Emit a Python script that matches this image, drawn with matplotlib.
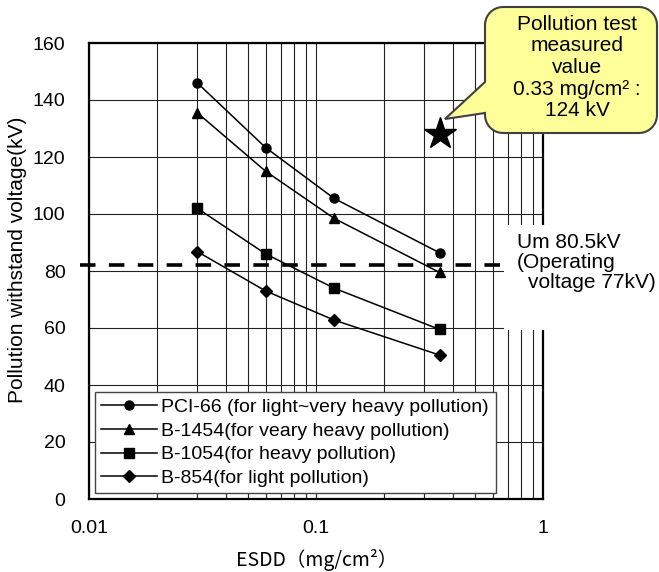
import numpy as np
import matplotlib
matplotlib.use("Agg")
import matplotlib.pyplot as plt
from matplotlib.patches import Rectangle, Polygon

plt.rcParams["font.family"] = ["Liberation Sans", "DejaVu Sans"]

# data
esdd = [0.03, 0.06, 0.12, 0.35]
pci66 = [146, 123.3, 105.5, 86.4]
b1454 = [135.5, 115, 98.5, 79.5]
b1054 = [102, 86, 74, 59.5]
b854 = [86.8, 73, 62.8, 50.5]
series = [
    ("PCI-66 (for light~very heavy pollution)", pci66, "o", 6.5),
    ("B-1454(for veary heavy pollution)", b1454, "^", 7.5),
    ("B-1054(for heavy pollution)", b1054, "s", 6.5),
    ("B-854(for light pollution)", b854, "D", 6),
]
test_esdd = 0.35
test_kv = 128
um_kv = 82
yticks = [0, 20, 40, 60, 80, 100, 120, 140, 160]
xticks = [0.01, 0.1, 1]
xticklabels = ["0.01", "0.1", "1"]

W, H = 659, 572
fig = plt.figure(figsize=(W / 100, H / 100), dpi=100)
ax = fig.add_axes([89 / W, 73 / H, 454 / W, 456 / H])

ax.set_xscale("log")
ax.set_xlim(0.01, 1)
ax.set_ylim(0, 160)
ax.set_xticks(xticks)
ax.set_xticklabels(xticklabels)
ax.set_yticks(yticks)
ax.tick_params(axis="both", which="both", length=0, labelsize=14)
ax.tick_params(axis="x", pad=15)
ax.tick_params(axis="y", pad=17)
ax.grid(True, which="both", color="#222222", lw=0.8)
ax.set_axisbelow(True)
for sp in ax.spines.values():
    sp.set_linewidth(1.6)

for label, vals, mk, ms in series:
    ax.plot(esdd, vals, color="k", lw=1.1, marker=mk, ms=ms, label=label, zorder=4)

ax.plot(test_esdd, test_kv, marker="*", color="k", ms=24, ls="none", zorder=5)

# operating voltage line
ax.plot([0.00913, 1], [um_kv, um_kv], color="k", lw=2.6, dashes=(4.3, 3.7),
        clip_on=False, zorder=3)

leg = ax.legend(loc="lower left", bbox_to_anchor=(0.013, 0.013, 0.883, 0.3),
                mode="expand", borderaxespad=0, fontsize=14, frameon=True,
                fancybox=False, edgecolor="#444444", framealpha=1,
                handlelength=2.9, handletextpad=0.2, labelspacing=0.32,
                borderpad=0.3)
leg.get_frame().set_linewidth(1.0)
leg.set_zorder(6)

fig.text(18 / W, 1 - 260 / H, "Pollution withstand voltage(kV)", rotation=90,
         ha="center", va="center", fontsize=15)
fig.text(317 / W, 1 - 560 / H, "ESDD（mg/cm²）", ha="center", va="center",
         fontsize=14, family=["Noto Sans CJK JP", "DejaVu Sans"])

# white box behind the operating voltage note
fig.patches.append(Rectangle((504 / W, 1 - 330 / H), 155 / W, 105 / H,
                             transform=fig.transFigure, facecolor="white",
                             edgecolor="none", zorder=2))
fig.text(517 / W, 1 - 243 / H, "Um 80.5kV", ha="left", va="center", fontsize=15, zorder=3)
fig.text(517 / W, 1 - 263 / H, "(Operating", ha="left", va="center", fontsize=15, zorder=3)
fig.text(528 / W, 1 - 283 / H, "voltage 77kV)", ha="left", va="center", fontsize=15, zorder=3)

# callout balloon
x0, x1, y0, y1, r = 485, 657, 7, 133, 18
pts = []
def arc(cx, cy, a0, a1):
    t = np.radians(np.linspace(a0, a1, 10))
    return [(cx + r * np.cos(t_), cy + r * np.sin(t_)) for t_ in t]
pts += arc(x0 + r, y0 + r, 180, 270)
pts += arc(x1 - r, y0 + r, 270, 360)
pts += arc(x1 - r, y1 - r, 0, 90)
pts += arc(x0 + r, y1 - r, 90, 180)
pts += [(x0, 113), (445, 119), (x0, 82)]
pts = [(px / W, 1 - py / H) for px, py in pts]
fig.patches.append(Polygon(pts, closed=True, transform=fig.transFigure,
                           facecolor="#FFFF99", edgecolor="#404040", lw=1.5, zorder=4))
callout = ["Pollution test", "measured", "value", "0.33 mg/cm² :", "124 kV"]
for i, line in enumerate(callout):
    fig.text(577 / W, 1 - (24 + 21.7 * i) / H, line, ha="center", va="center",
             fontsize=15, zorder=5)

fig.savefig("out.png", dpi=100)
